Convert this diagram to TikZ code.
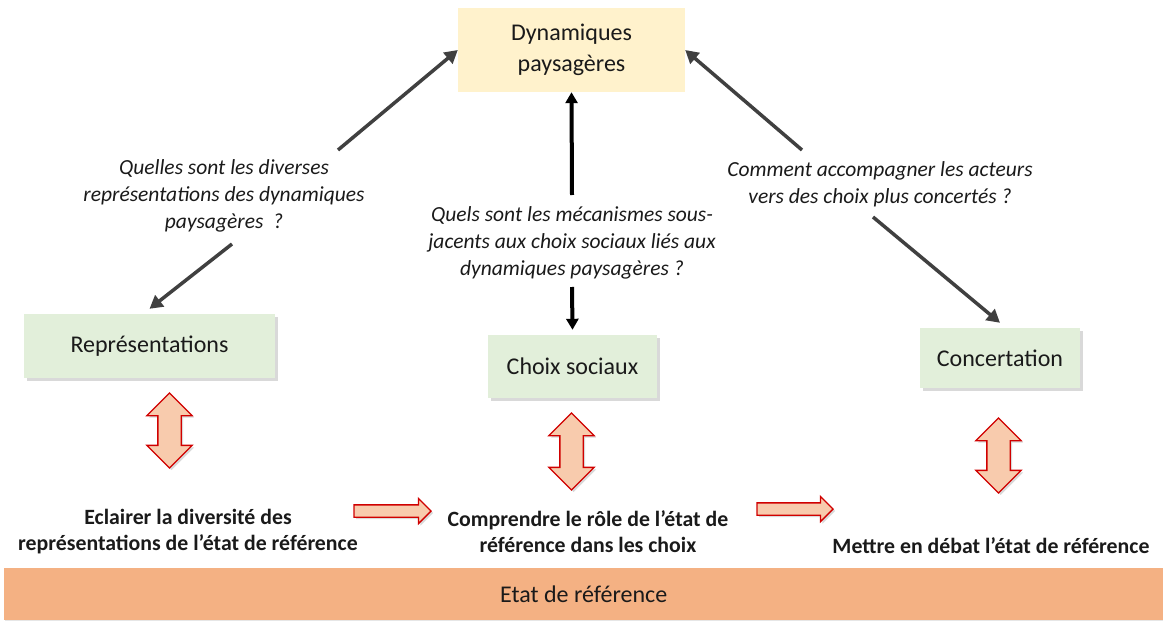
\documentclass[tikz,border=0pt]{standalone}
\usepackage{fontspec}
\setmainfont{Carlito}
\usetikzlibrary{arrows.meta,shapes.arrows,shadows}
\definecolor{dynfill}{HTML}{FFF2CC}
\definecolor{greenfill}{HTML}{E2EFDA}
\definecolor{barfill}{HTML}{F4B183}
\definecolor{redfill}{HTML}{F8CBAD}
\definecolor{redline}{HTML}{D00000}
\definecolor{arrowgray}{HTML}{404040}
\definecolor{txt}{HTML}{1A1A1A}

\begin{document}
\begin{tikzpicture}[x=1pt,y=-1pt,
  box/.style={inner sep=0, font=\fontsize{24}{31}\selectfont, align=center, text=txt},
  greenbox/.style={box, fill=greenfill, drop shadow={shadow xshift=3pt, shadow yshift=-3pt, opacity=0.3}},
  question/.style={font=\fontsize{21.5}{27}\selectfont\itshape, align=center, inner sep=0, text=txt},
  goal/.style={font=\fontsize{21.8}{26}\selectfont\bfseries, align=center, inner sep=0, text=txt},
  garrow/.style={draw=arrowgray, line width=3.5pt, -{Triangle[length=13pt,width=14pt]}},
  barrow/.style={draw=black, line width=4pt, -{Triangle[length=11pt,width=12pt]}},
  vdarrow/.style={double arrow, draw=redline, fill=redfill, line width=1.3pt, rotate=90,
    inner xsep=0pt, inner ysep=11pt,
    double arrow head extend=11pt, drop shadow={shadow xshift=2pt, shadow yshift=-2pt, opacity=0.3}},
  harrow/.style={single arrow, draw=redline, fill=redfill, line width=1.3pt,
    inner xsep=0pt, inner ysep=5.5pt,
    single arrow head extend=6.5pt, drop shadow={shadow xshift=2pt, shadow yshift=-2pt, opacity=0.3}}
]
\useasboundingbox (0,0) rectangle (1163,621);

% boxes
\node[box, fill=dynfill, minimum width=227pt, minimum height=84pt] (dyn) at (571.5,50) {Dynamiques\\paysagères};
\node[greenbox, minimum width=251pt, minimum height=64pt] (rep) at (149.5,346) {Représentations};
\node[greenbox, minimum width=169pt, minimum height=63pt] (cho) at (572.5,366.5) {Choix sociaux};
\node[greenbox, minimum width=160pt, minimum height=60pt] (con) at (1000,358) {Concertation};
\node[box, fill=barfill, minimum width=1159pt, minimum height=52pt, anchor=west,
  drop shadow={shadow xshift=1pt, shadow yshift=-2pt, opacity=0.2}] (bar) at (4,594) {Etat de référence};

% questions
\node[question] (q1) at (224,196) {Quelles sont les diverses\\représentations des dynamiques\\paysagères~ ?};
\node[question] (q2) at (572,243) {Quels sont les mécanismes sous-\\jacents aux choix sociaux liés aux\\dynamiques paysagères ?};
\node[question] (q3) at (880,184) {Comment accompagner les acteurs\\vers des choix plus concertés ?};

% goals
\node[goal] (g1) at (188,532) {Eclairer la diversité des\\représentations de l’état de référence};
\node[goal] (g2) at (588,532) {Comprendre le rôle de l’état de\\référence dans les choix};
\node[goal] (g3) at (991,546) {Mettre en débat l’état de référence};

% connectors
\coordinate (s1) at (338,150);
\coordinate (s2) at (232,244);
\coordinate (s3) at (802,150);
\coordinate (s4) at (873,217);
\coordinate (s5) at (572,195);
\coordinate (s6) at (572,287);
\draw[garrow] (s1) -- (dyn.west);
\draw[garrow] (s2) -- ([yshift=5pt]rep.north);
\draw[garrow] (s3) -- (dyn.east);
\draw[garrow] (s4) -- ([yshift=5pt]con.north);
\draw[barrow] (s5) -- (dyn.south);
\draw[barrow] (s6) -- ([yshift=5pt]cho.north);

% red arrows
\node[vdarrow, minimum height=75pt] (d1) at (169.5,430.5) {};
\node[vdarrow, minimum height=77pt] (d2) at (571.5,451.5) {};
\node[vdarrow, minimum height=75pt] (d3) at (998.5,455.5) {};
\node[harrow, minimum height=77pt] (h1) at (389.5,511) {};
\node[harrow, minimum height=76pt] (h2) at (792,509) {};
\end{tikzpicture}
\end{document}
